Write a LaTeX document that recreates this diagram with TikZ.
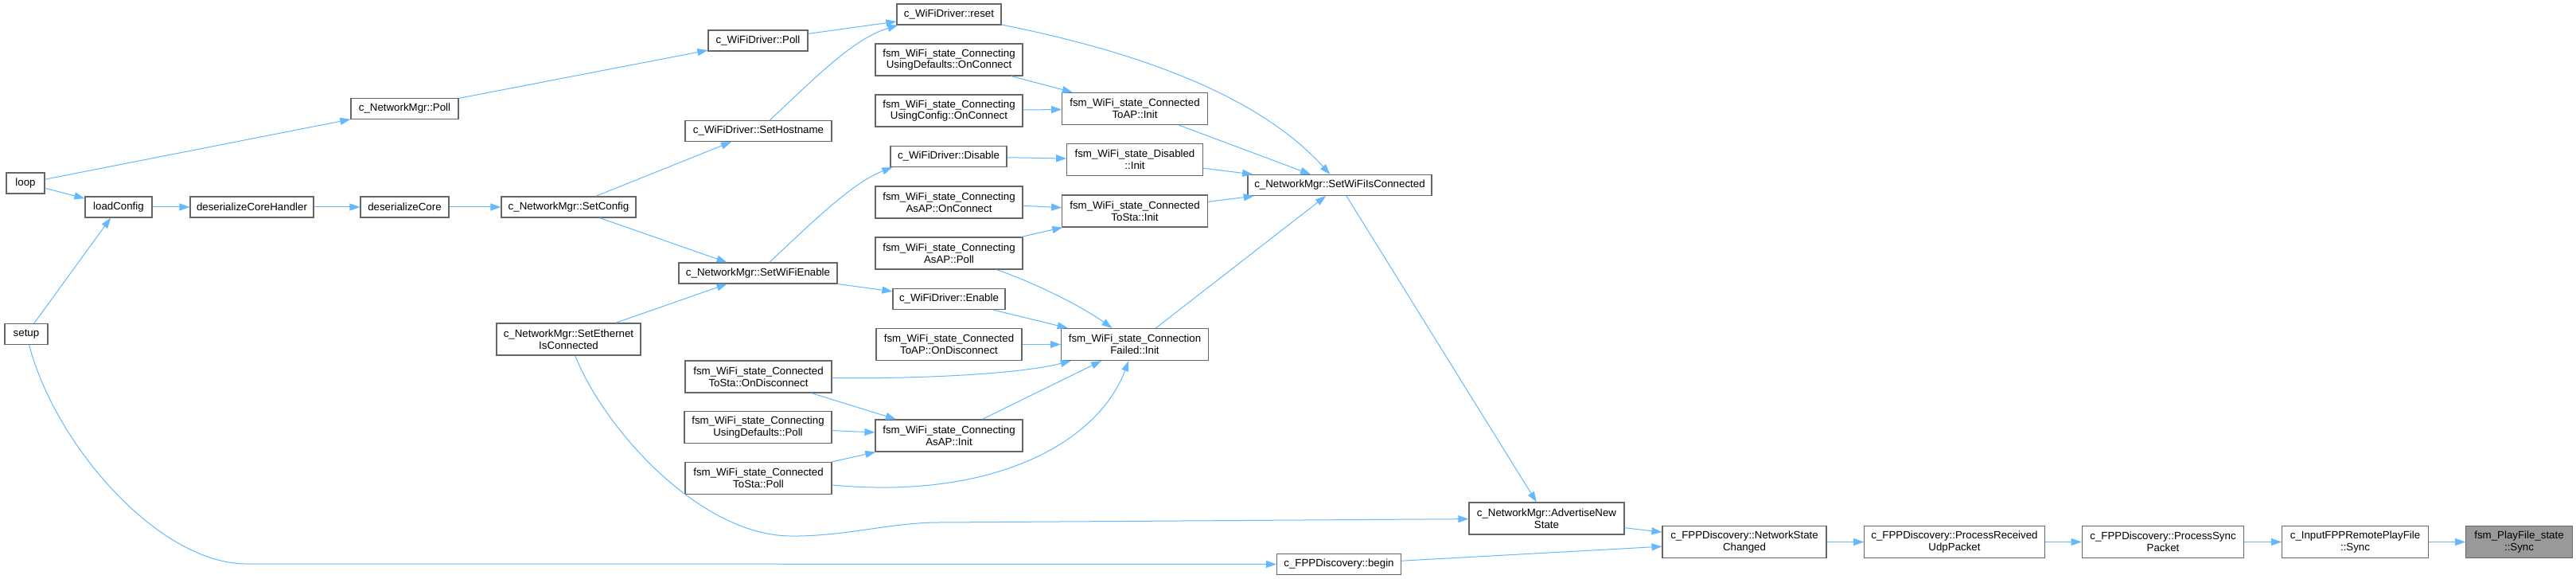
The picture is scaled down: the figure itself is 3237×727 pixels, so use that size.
\documentclass[tikz,border=0pt]{standalone}
\usepackage{fontspec}
\setmainfont{Liberation Sans}
\usepackage{tikz}
\usetikzlibrary{arrows.meta}
\definecolor{edgeblue}{HTML}{63B8FF}
\definecolor{boxline}{HTML}{666666}
\definecolor{rootfill}{HTML}{999999}

\begin{document}
\begin{tikzpicture}[x=1pt, y=-1pt,
  box/.style={draw=boxline, line width=1.2pt, fill=#1, minimum height=26pt,
              inner sep=0pt, align=center, font=\fontsize{13.3}{14.7}\selectfont},
  box/.default=white,
  tall/.style={minimum height=40pt},
  arr/.style={-{Triangle[length=13pt, width=9pt]}, draw=edgeblue, line width=1pt},
]
  \useasboundingbox (0,0) rectangle (3237,727);

  \node[box, minimum width=48pt]  (loop)  at (32,230)   {loop};
  \node[box, minimum width=54pt]  (setup) at (33,419.5) {setup};
  \node[box, minimum width=84pt]  (loadcfg)    at (149,260)   {loadConfig};
  \node[box, minimum width=155pt] (deshandler) at (316.5,260) {deserializeCoreHandler};
  \node[box, minimum width=111pt] (descore)    at (508.5,260) {deserializeCore};
  \node[box, minimum width=169pt] (setcfg)     at (714.5,260) {c\_NetworkMgr::SetConfig};
  \node[box, minimum width=135pt] (nmpoll)     at (508.5,136.5) {c\_NetworkMgr::Poll};
  \node[box, tall, minimum width=181pt] (ethconn) at (714.5,426) {c\_NetworkMgr::SetEthernet\\IsConnected};

  \node[box, minimum width=125pt] (wdpoll)  at (952.5,51)  {c\_WiFiDriver::Poll};
  \node[box, minimum width=184pt] (sethost) at (953,164.5) {c\_WiFiDriver::SetHostname};
  \node[box, minimum width=199pt] (wifien)  at (952.5,343) {c\_NetworkMgr::SetWiFiEnable};
  \node[box, tall, minimum width=184pt] (stadisc) at (953,473)     {fsm\_WiFi\_state\_Connected\\ToSta::OnDisconnect};
  \node[box, tall, minimum width=185pt] (defpoll) at (952.5,536.5) {fsm\_WiFi\_state\_Connecting\\UsingDefaults::Poll};
  \node[box, tall, minimum width=184pt] (stapoll) at (953,600.5)   {fsm\_WiFi\_state\_Connected\\ToSta::Poll};

  \node[box, minimum width=131pt] (reset) at (1192.5,18) {c\_WiFiDriver::reset};
  \node[box, tall, minimum width=185pt] (defconn) at (1192.5,75)  {fsm\_WiFi\_state\_Connecting\\UsingDefaults::OnConnect};
  \node[box, tall, minimum width=185pt] (cfgconn) at (1192.5,139) {fsm\_WiFi\_state\_Connecting\\UsingConfig::OnConnect};
  \node[box, minimum width=146pt] (disable) at (1192,196.5) {c\_WiFiDriver::Disable};
  \node[box, tall, minimum width=185pt] (apconn) at (1192.5,254) {fsm\_WiFi\_state\_Connecting\\AsAP::OnConnect};
  \node[box, tall, minimum width=185pt] (appoll) at (1192.5,318) {fsm\_WiFi\_state\_Connecting\\AsAP::Poll};
  \node[box, minimum width=141pt] (enable) at (1192.5,375.5) {c\_WiFiDriver::Enable};
  \node[box, tall, minimum width=183pt] (apdisc) at (1192.5,432.5) {fsm\_WiFi\_state\_Connected\\ToAP::OnDisconnect};
  \node[box, tall, minimum width=185pt] (apinit) at (1192.5,547)   {fsm\_WiFi\_state\_Connecting\\AsAP::Init};

  \node[box, tall, minimum width=182.5pt] (toapinit)  at (1426,136.5) {fsm\_WiFi\_state\_Connected\\ToAP::Init};
  \node[box, tall, minimum width=170.5pt] (disinit)   at (1426,200.5) {fsm\_WiFi\_state\_Disabled\\::Init};
  \node[box, tall, minimum width=182.5pt] (tostainit) at (1426,265)   {fsm\_WiFi\_state\_Connected\\ToSta::Init};
  \node[box, tall, minimum width=185pt]   (failinit)  at (1426,432.5) {fsm\_WiFi\_state\_Connection\\Failed::Init};

  \node[box, minimum width=231pt] (wificonn) at (1683.5,232.5) {c\_NetworkMgr::SetWiFiIsConnected};
  \node[box, minimum width=156pt] (begin)    at (1682.5,708.5) {c\_FPPDiscovery::begin};
  \node[box, tall, minimum width=195pt]   (advert)  at (1943.5,651) {c\_NetworkMgr::AdvertiseNew\\State};
  \node[box, tall, minimum width=206pt]   (netchg)  at (2192,680.5) {c\_FPPDiscovery::NetworkState\\Changed};
  \node[box, tall, minimum width=226.5pt] (udp)     at (2456,680.5) {c\_FPPDiscovery::ProcessReceived\\UdpPacket};
  \node[box, tall, minimum width=203.5pt] (syncpkt) at (2718,680.5) {c\_FPPDiscovery::ProcessSync\\Packet};
  \node[box, tall, minimum width=183.5pt] (remsync) at (2959.5,680.5) {c\_InputFPPRemotePlayFile\\::Sync};
  \node[box=rootfill, tall, minimum width=133.5pt] (pfsync) at (3165.5,680.5) {fsm\_PlayFile\_state\\::Sync};

  \draw[arr] (loop) -- (nmpoll);
  \draw[arr] (loop) -- (loadcfg);
  \draw[arr] (setup) -- (loadcfg);
  \draw[arr] (setup) .. controls (70,560) and (200,708) .. (310,708) -- (begin);
  \draw[arr] (loadcfg) -- (deshandler);
  \draw[arr] (deshandler) -- (descore);
  \draw[arr] (descore) -- (setcfg);
  \draw[arr] (nmpoll) -- (wdpoll);
  \draw[arr] (setcfg) -- (sethost);
  \draw[arr] (setcfg) -- (wifien);
  \draw[arr] (ethconn) -- (wifien);
  \draw[arr] (ethconn) .. controls (760,540) and (880,672) .. (993,673)
                       .. controls (1060,674) and (1120,656) .. (1180,656) -- (advert);
  \draw[arr] (wdpoll) -- (reset);
  \draw[arr] (sethost) .. controls (1035,87) and (1075,48) .. ([xshift=2pt]reset.south west);
  \draw[arr] (wifien) .. controls (1035,265) and (1075,228) .. ([xshift=3pt]disable.south west);
  \draw[arr] (wifien) -- (enable);
  \draw[arr] (reset) .. controls (1480,75) and (1600,140) .. (wificonn);
  \draw[arr] (defconn) -- (toapinit);
  \draw[arr] (cfgconn) -- (toapinit);
  \draw[arr] (disable) -- (disinit);
  \draw[arr] (apconn) -- (tostainit);
  \draw[arr] (appoll) -- (tostainit);
  \draw[arr] (appoll) .. controls (1300,355) and (1360,385) .. (failinit);
  \draw[arr] (enable) -- (failinit);
  \draw[arr] (apdisc) -- (failinit);
  \draw[arr] (stadisc) .. controls (1150,476) and (1280,470) .. (failinit);
  \draw[arr] (stadisc) -- (apinit);
  \draw[arr] (defpoll) -- (apinit);
  \draw[arr] (stapoll) -- (apinit);
  \draw[arr] (stapoll) .. controls (1250,628) and (1380,555) .. (failinit);
  \draw[arr] (apinit) -- (failinit);
  \draw[arr] (toapinit) -- (wificonn);
  \draw[arr] (disinit) -- (wificonn);
  \draw[arr] (tostainit) -- (wificonn);
  \draw[arr] (failinit) -- (wificonn);
  \draw[arr] (wificonn) -- (advert);
  \draw[arr] (advert) -- (netchg);
  \draw[arr] (begin) -- (netchg);
  \draw[arr] (netchg) -- (udp);
  \draw[arr] (udp) -- (syncpkt);
  \draw[arr] (syncpkt) -- (remsync);
  \draw[arr] (remsync) -- (pfsync);
\end{tikzpicture}
\end{document}
